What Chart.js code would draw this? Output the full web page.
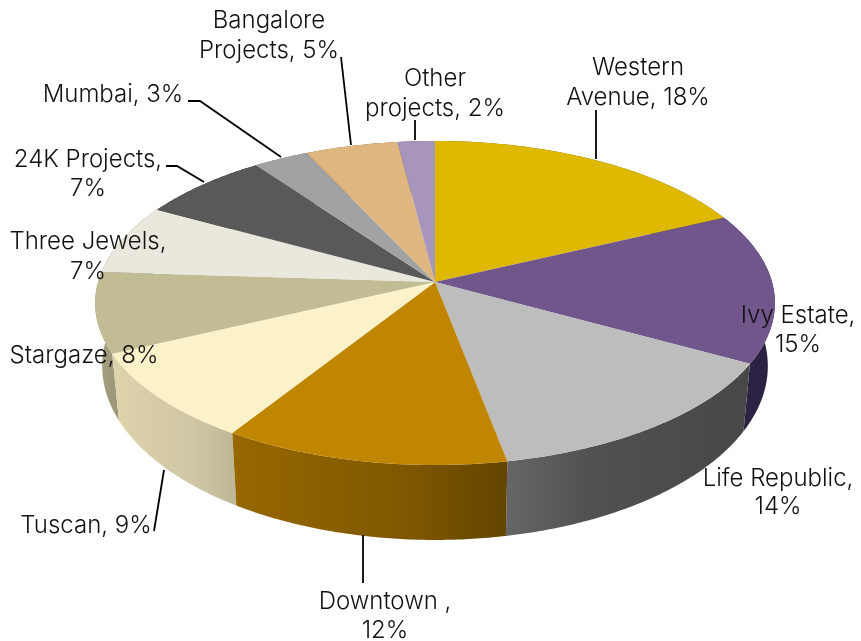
<!DOCTYPE html>
<html>
<head>
<meta charset="utf-8">
<style>html,body{margin:0;padding:0;background:#fff}canvas{display:block}</style>
<script src="https://cdn.jsdelivr.net/npm/chart.js@4"></script>
</head>
<body>
<canvas id="c" width="861" height="641"></canvas>
<script>
const categories = ["Western Avenue","Ivy Estate","Life Republic","Downtown","Tuscan","Stargaze","Three Jewels","24K Projects","Mumbai","Bangalore Projects","Other projects"];
const values = [18,15,14,12,9,8,7,7,3,5,2];
const topColors = ["#DFB800","#71568C","#BDBDBD","#C08600","#FBF2CA","#C2BC95","#EAE8DD","#595959","#A2A2A2","#DFB680","#A795BB"];
const wallStops = [["#6f5c00","#6f5c00"],["#2f2446","#2a2040"],["#666666","#525252","#4c4c4c","#474747"],["#976800","#8a5f00","#7c5600","#634500"],["#DDD4AB","#D6CDA8","#CFC6A3","#BDB797"],["#A8A384","#9A9577"],["#75746e","#75746e"],["#2d2d2d","#2d2d2d"],["#515151","#515151"],["#6f5b40","#6f5b40"],["#534a5d","#534a5d"]];
const labelLines = [["Western","Avenue, 18%"],["Ivy Estate,","15%"],["Life Republic,","14%"],["Downtown ,","12%"],["Tuscan, 9%"],["Stargaze, 8%"],["Three Jewels,","7%"],["24K Projects,","7%"],["Mumbai, 3%"],["Bangalore","Projects, 5%"],["Other","projects, 2%"]];
const labelCenters = [[638,75],[798,323],[778,486],[385,609],[86,533],[84,363],[88,249],[88,167],[113,102],[269,28],[435,86]];
const lineHeights = [30,29,28,29,0,0,30,29,0,30,30];
const leaders = [[[596,110],[596,159]],[],[],[[363,535],[363,583]],[[154,531],[164,470]],[],[],[[166,166],[177,166],[204,182]],[[188,101],[200,101],[281,157]],[[341,57],[351,145]],[[415,120],[415,140]]];

const PIE = {cx:435, apexY:282, B:337, A:159.3, k:0.1296};
const RIM = {cx:435, apexY:343.4, B:330, A:171, k:0.13};
function proj(P,a){const u=Math.sin(a),v=-Math.cos(a),s=1/(1-P.k*v);return [P.cx+P.B*u*s,P.apexY+P.A*v*s];}
function samples(a0,a1){const n=Math.max(2,Math.ceil((a1-a0)/0.01));const r=[];for(let i=0;i<=n;i++)r.push(a0+(a1-a0)*i/n);return r;}

const pie3d = {
  id:'pie3d',
  beforeDatasetDraw(chart,args){
    const ctx=chart.ctx, arcs=chart.getDatasetMeta(0).data;
    const slices=arcs.map((el,i)=>({i,a0:el.startAngle+Math.PI/2,a1:el.endAngle+Math.PI/2}));
    const mid=s=>Math.abs((s.a0+s.a1)/2-Math.PI);
    [...slices].sort((p,q)=>mid(q)-mid(p)).forEach(s=>{
      const as=samples(s.a0,s.a1), top=as.map(a=>proj(PIE,a)), bot=as.map(a=>proj(RIM,a));
      const xs=top.concat(bot).map(p=>p[0]);
      const g=ctx.createLinearGradient(Math.min(...xs),0,Math.max(...xs),0);
      const st=wallStops[s.i]; st.forEach((c,j)=>g.addColorStop(j/(st.length-1),c));
      ctx.beginPath();
      top.forEach((p,j)=>j?ctx.lineTo(p[0],p[1]):ctx.moveTo(p[0],p[1]));
      bot.reverse().forEach(p=>ctx.lineTo(p[0],p[1]));
      ctx.closePath(); ctx.fillStyle=g; ctx.fill();
    });
    slices.forEach(s=>{
      ctx.beginPath(); ctx.moveTo(PIE.cx,PIE.apexY);
      samples(s.a0,s.a1).forEach(a=>{const p=proj(PIE,a);ctx.lineTo(p[0],p[1]);});
      ctx.closePath(); ctx.fillStyle=arcs[s.i].options.backgroundColor; ctx.fill();
    });
    return false;
  },
  afterDatasetsDraw(chart){
    const ctx=chart.ctx;
    ctx.save();
    ctx.strokeStyle='#000'; ctx.lineWidth=1.8;
    leaders.forEach(l=>{ if(!l.length)return; ctx.beginPath(); l.forEach((p,j)=>j?ctx.lineTo(p[0],p[1]):ctx.moveTo(p[0],p[1])); ctx.stroke(); });
    ctx.fillStyle='#111'; ctx.font='300 24px Inter'; ctx.textAlign='center'; ctx.textBaseline='alphabetic';
    labelLines.forEach((lines,i)=>lines.forEach((t,j)=>ctx.fillText(t,labelCenters[i][0],labelCenters[i][1]+j*lineHeights[i])));
    ctx.restore();
  }
};

new Chart(document.getElementById('c'),{
  type:'pie',
  data:{labels:categories,datasets:[{data:values,backgroundColor:topColors,borderWidth:0}]},
  options:{responsive:false,animation:false,plugins:{legend:{display:false},tooltip:{enabled:false}}},
  plugins:[pie3d]
});
</script>
</body>
</html>
